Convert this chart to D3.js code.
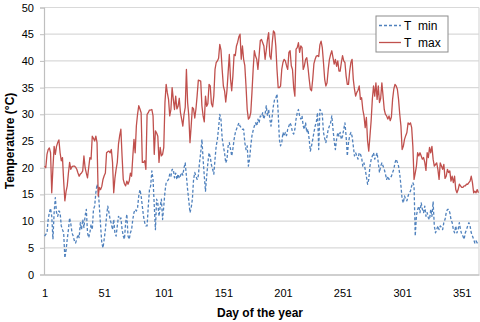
<!DOCTYPE html>
<html>
<head>
<meta charset="utf-8">
<script src="https://cdn.jsdelivr.net/npm/d3@7"></script>
<style>
  html, body { margin: 0; padding: 0; background: #fff; }
  svg { display: block; font-family: Arial, "Liberation Sans", sans-serif; }
</style>
</head>
<body>
<div id="chart"></div>
<script>
// daily values, day 1 .. 365
const tMax = [
  20.3, 20.0, 22.5, 23.4, 23.7, 22.8, 15.3, 20.0, 24.0, 22.5,
  24.0, 24.7, 25.2, 22.8, 21.3, 21.9, 17.5, 13.8, 15.5, 16.6,
  19.0, 21.0, 19.7, 20.2, 20.3, 20.3, 20.1, 19.7, 19.0, 18.4,
  18.8, 19.0, 19.4, 22.2, 20.0, 19.0, 18.1, 20.0, 21.9, 21.6,
  25.9, 25.5, 25.0, 25.9, 24.7, 14.7, 16.3, 15.9, 16.5, 17.8,
  18.5, 19.0, 22.8, 23.0, 23.1, 22.8, 23.4, 21.0, 15.3, 18.0,
  19.7, 21.0, 24.4, 26.0, 27.2, 22.2, 17.8, 17.0, 16.6, 17.5,
  16.9, 17.5, 19.0, 18.4, 22.0, 25.3, 22.8, 27.8, 30.0, 31.6,
  31.0, 30.3, 21.0, 21.0, 21.3, 19.7, 30.0, 30.3, 30.8, 30.8,
  30.9, 29.7, 22.5, 26.9, 26.5, 25.9, 21.0, 23.8, 22.2, 22.5,
  23.8, 32.2, 35.6, 34.0, 32.8, 29.7, 30.9, 35.0, 32.8, 30.9,
  33.4, 31.0, 31.5, 33.0, 30.3, 29.1, 27.8, 30.0, 31.3, 38.4,
  32.2, 29.7, 24.7, 27.8, 31.3, 31.0, 29.3, 31.0, 33.5, 36.4,
  36.3, 36.2, 31.6, 29.7, 28.6, 33.4, 31.5, 32.0, 35.6, 35.3,
  32.0, 31.4, 33.5, 38.4, 39.7, 40.0, 40.5, 43.1, 42.0, 38.4,
  35.3, 34.4, 32.3, 34.4, 37.8, 41.2, 36.6, 34.4, 37.2, 41.2,
  41.0, 42.8, 43.5, 44.5, 45.0, 40.3, 42.8, 40.3, 39.1, 35.3,
  30.9, 29.1, 29.4, 30.3, 34.1, 38.4, 41.9, 40.9, 40.3, 38.4,
  41.0, 43.8, 44.0, 43.4, 42.8, 40.3, 42.0, 44.0, 45.3, 40.9,
  40.3, 43.4, 45.6, 45.3, 42.8, 38.4, 35.0, 35.0, 35.3, 38.4,
  39.7, 40.3, 40.0, 39.1, 38.4, 41.6, 41.9, 39.1, 38.4, 35.0,
  33.4, 42.2, 42.5, 43.4, 41.6, 42.8, 42.5, 38.4, 39.1, 40.3,
  40.6, 38.8, 36.6, 34.7, 34.4, 36.6, 39.5, 40.3, 40.9, 41.0,
  40.8, 43.0, 43.7, 42.5, 39.7, 36.6, 35.3, 35.9, 38.4, 40.3,
  41.2, 41.9, 40.6, 39.4, 40.3, 39.0, 40.0, 38.1, 38.1, 39.7,
  41.0, 40.0, 39.7, 37.2, 35.6, 35.6, 38.1, 39.7, 40.3, 36.6,
  34.7, 33.4, 34.1, 34.5, 35.3, 32.8, 33.1, 30.9, 29.7, 27.5,
  29.4, 25.0, 23.1, 25.9, 28.8, 32.8, 35.3, 33.4, 35.9, 32.8,
  35.3, 32.2, 33.0, 35.9, 33.4, 30.9, 30.0, 29.7, 29.1, 29.7,
  28.8, 29.5, 32.8, 34.7, 35.6, 35.3, 34.7, 32.8, 30.0, 27.8,
  23.4, 24.0, 25.3, 26.0, 26.6, 28.4, 28.1, 28.4, 27.5, 24.0,
  17.8, 19.0, 20.3, 22.8, 22.2, 22.8, 22.2, 21.6, 21.9, 21.0,
  19.5, 22.8, 21.9, 23.8, 22.8, 24.0, 21.6, 20.3, 20.6, 20.9,
  19.7, 17.8, 20.9, 20.3, 19.7, 20.6, 18.0, 18.4, 19.7, 19.1,
  19.4, 17.5, 18.4, 17.2, 18.4, 15.9, 15.3, 15.9, 16.9, 16.6,
  16.3, 16.3, 16.6, 16.6, 16.9, 16.9, 17.2, 17.5, 18.4, 17.2,
  15.3, 15.6, 15.3, 15.9, 15.3
];

const tMin = [
  7.2, 7.5, 7.8, 10.3, 11.6, 12.4, 10.9, 6.6, 11.6, 14.4,
  11.6, 10.9, 11.9, 11.6, 9.1, 8.4, 7.8, 3.1, 4.5, 6.6,
  8.4, 10.6, 9.5, 7.8, 7.2, 6.3, 5.9, 6.6, 7.5, 6.9,
  9.7, 8.4, 10.3, 8.8, 11.0, 12.2, 7.8, 6.9, 7.8, 9.4,
  8.4, 12.2, 12.8, 15.3, 16.9, 15.9, 12.5, 9.1, 5.9, 5.0,
  6.6, 8.4, 10.9, 12.8, 11.6, 10.3, 9.5, 8.4, 10.3, 7.8,
  7.2, 9.1, 10.9, 10.3, 10.6, 8.5, 7.2, 6.6, 9.7, 11.3,
  7.2, 6.6, 7.8, 8.4, 10.3, 11.6, 12.2, 11.9, 12.5, 14.7,
  15.9, 14.7, 12.8, 10.9, 9.7, 9.1, 9.1, 12.8, 15.9, 16.6,
  19.4, 17.8, 13.0, 8.4, 14.1, 13.4, 10.9, 12.8, 14.1, 10.3,
  12.8, 15.5, 17.2, 17.5, 17.8, 18.8, 18.4, 19.7, 19.7, 18.1,
  19.0, 17.8, 18.8, 18.0, 18.5, 19.1, 18.6, 20.0, 20.9, 18.4,
  15.9, 13.8, 11.6, 12.5, 14.1, 17.8, 19.1, 18.4, 17.8, 18.5,
  21.0, 22.8, 25.3, 21.6, 18.4, 15.6, 18.4, 20.9, 22.8, 22.0,
  20.5, 19.7, 18.8, 21.6, 24.1, 25.3, 27.5, 30.0, 29.0, 25.5,
  24.0, 22.8, 20.9, 21.5, 24.1, 24.7, 23.5, 22.2, 23.5, 25.3,
  26.5, 27.2, 27.8, 28.4, 27.8, 27.5, 27.2, 27.2, 24.7, 23.4,
  24.1, 20.3, 21.6, 24.1, 26.0, 27.0, 27.8, 28.4, 27.8, 29.1,
  28.4, 29.7, 29.5, 30.3, 29.1, 30.0, 31.6, 29.7, 30.9, 29.1,
  27.8, 29.7, 31.6, 32.8, 33.0, 33.8, 30.3, 25.3, 24.1, 24.7,
  26.6, 25.9, 26.6, 26.0, 27.2, 27.8, 28.4, 27.8, 26.6, 26.3,
  27.2, 29.1, 30.3, 30.9, 29.7, 29.1, 29.7, 27.8, 27.2, 28.4,
  26.6, 27.2, 25.3, 23.1, 24.1, 25.3, 26.6, 27.8, 28.5, 30.3,
  23.4, 30.9, 30.6, 30.0, 26.6, 25.5, 24.7, 25.9, 27.2, 27.8,
  28.4, 29.7, 27.2, 25.0, 23.4, 25.3, 26.6, 25.9, 26.6, 25.3,
  25.9, 27.2, 28.4, 25.9, 22.2, 24.7, 26.0, 26.6, 25.9, 24.1,
  22.2, 22.8, 22.2, 21.6, 22.8, 22.5, 21.9, 20.3, 20.9, 19.7,
  18.4, 16.9, 17.8, 20.3, 21.5, 22.2, 22.8, 21.6, 22.2, 22.8,
  20.9, 19.1, 20.3, 20.9, 20.3, 19.7, 18.8, 17.8, 18.4, 17.8,
  18.1, 18.4, 19.1, 19.7, 20.9, 21.6, 21.0, 20.3, 18.8, 16.6,
  14.1, 13.4, 14.7, 14.1, 13.8, 14.7, 15.3, 15.6, 16.6, 17.2,
  16.6, 7.2, 11.0, 12.2, 12.8, 11.6, 13.4, 12.2, 11.6, 12.8,
  10.9, 11.6, 10.6, 10.3, 12.2, 10.9, 13.6, 9.1, 7.8, 8.4,
  9.1, 8.4, 9.1, 8.8, 8.4, 9.7, 10.3, 11.6, 12.2, 12.2,
  11.6, 10.3, 9.7, 8.4, 7.8, 9.1, 7.8, 8.4, 9.7, 8.4,
  7.5, 7.2, 6.6, 7.8, 8.4, 9.1, 9.7, 9.1, 7.8, 7.2,
  6.6, 5.9, 6.3, 5.9, 5.6
];

const xTicks = [1, 51, 101, 151, 201, 251, 301, 351];
const yTicks = [0, 5, 10, 15, 20, 25, 30, 35, 40, 45, 50];

const series = [
  { name: 'T\u00a0\u00a0min', values: tMin, color: '#4f81bd', dash: '3,2' },
  { name: 'T\u00a0\u00a0max', values: tMax, color: '#c0504d', dash: null }
];

const width = 480;
const height = 322;
const plot = { left: 44, right: 479, top: 7.5, bottom: 274.5 };

const svg = d3.select('#chart')
  .append('svg')
  .attr('width', width)
  .attr('height', height);

const x = d3.scaleLinear()
  .domain([0.5, 365.5])
  .range([plot.left, plot.right]);

const y = d3.scaleLinear()
  .domain([0, 50])
  .range([plot.bottom, plot.top]);

// gridlines
svg.append('g')
  .selectAll('line')
  .data(yTicks.filter(d => d > 0))
  .enter()
  .append('line')
  .attr('x1', plot.left)
  .attr('x2', plot.right)
  .attr('y1', d => y(d))
  .attr('y2', d => y(d))
  .attr('stroke', '#d9d9d9')
  .attr('stroke-width', 1.2);

// right border of the plot area
svg.append('line')
  .attr('x1', plot.right)
  .attr('x2', plot.right)
  .attr('y1', plot.top)
  .attr('y2', plot.bottom)
  .attr('stroke', '#d9d9d9')
  .attr('stroke-width', 1.2);

// y axis
const yAxis = svg.append('g')
  .attr('transform', `translate(${plot.left},0)`)
  .call(d3.axisLeft(y).tickValues(yTicks).tickSize(4).tickPadding(6));

yAxis.select('.domain').attr('stroke', '#bfbfbf').attr('stroke-width', 1.2);
yAxis.selectAll('.tick line').attr('stroke', '#bfbfbf');
yAxis.selectAll('.tick text')
  .attr('font-size', 11)
  .attr('font-family', 'Arial, "Liberation Sans", sans-serif')
  .attr('fill', '#000');

// x axis
const xAxis = svg.append('g')
  .attr('transform', `translate(0,${plot.bottom})`)
  .call(d3.axisBottom(x).tickValues(xTicks).tickSize(0).tickSizeOuter(0));

xAxis.select('.domain').attr('stroke', '#bfbfbf').attr('stroke-width', 1.5);
xAxis.selectAll('.tick text')
  .attr('y', 22.5)
  .attr('dy', null)
  .attr('font-size', 11)
  .attr('font-family', 'Arial, "Liberation Sans", sans-serif')
  .attr('fill', '#000');

// axis titles
svg.append('text')
  .attr('transform', `translate(14,${(plot.top + plot.bottom) / 2}) rotate(-90)`)
  .attr('text-anchor', 'middle')
  .attr('font-size', 12)
  .attr('font-weight', 'bold')
  .text('Temperature (°C)');

svg.append('text')
  .attr('x', 260)
  .attr('y', 317)
  .attr('text-anchor', 'middle')
  .attr('font-size', 12)
  .attr('font-weight', 'bold')
  .text('Day of the year');

// lines
const line = d3.line()
  .x((d, i) => x(i + 1))
  .y(d => y(d));

svg.append('g')
  .selectAll('path')
  .data(series)
  .enter()
  .append('path')
  .attr('d', d => line(d.values))
  .attr('fill', 'none')
  .attr('stroke', d => d.color)
  .attr('stroke-width', 1.3)
  .attr('stroke-dasharray', d => d.dash)
  .attr('stroke-linejoin', 'round');

// legend
const legend = svg.append('g')
  .attr('class', 'legend')
  .attr('transform', 'translate(376,16)');

legend.append('rect')
  .attr('width', 72)
  .attr('height', 36)
  .attr('fill', '#fff')
  .attr('stroke', '#8c8c8c')
  .attr('stroke-width', 1);

const items = legend.selectAll('.item')
  .data(series)
  .enter()
  .append('g')
  .attr('class', 'item')
  .attr('transform', (d, i) => `translate(0,${9.5 + i * 17})`);

items.append('line')
  .attr('x1', 3)
  .attr('x2', 25)
  .attr('stroke', d => d.color)
  .attr('stroke-width', 1.3)
  .attr('stroke-dasharray', d => d.dash);

items.append('text')
  .attr('x', 28)
  .attr('dy', '0.35em')
  .attr('font-size', 12)
  .text(d => d.name);
</script>
</body>
</html>
